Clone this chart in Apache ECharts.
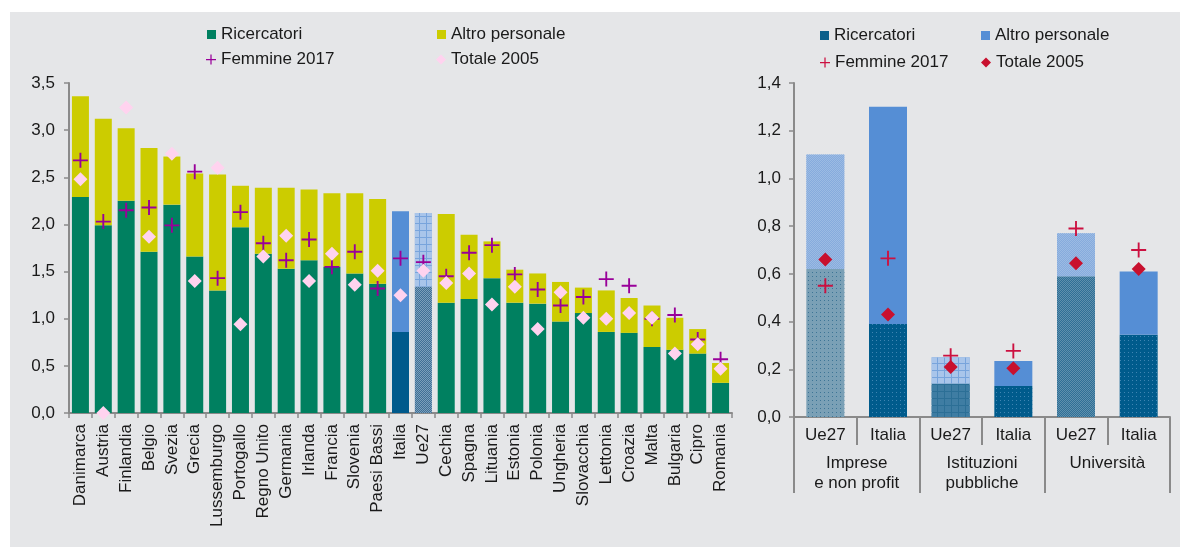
<!DOCTYPE html>
<html lang="it">
<head>
<meta charset="utf-8">
<title>Addetti alla R&amp;S</title>
<script src="https://cdn.jsdelivr.net/npm/echarts@6/dist/echarts.min.js"></script>
<style>
  html, body { margin: 0; padding: 0; background: #fff; }
  .panel { position: absolute; left: 10px; top: 12px; width: 1170px; height: 535px; background: #e5e6e8; }
  #chart { position: absolute; left: 0; top: 0; width: 1180px; height: 547px; }
</style>
</head>
<body>
<div class="panel"></div>
<div id="chart"></div>
<script>
// paesi (grafico di sinistra)
const paesi = ['Danimarca', 'Austria', 'Finlandia', 'Belgio', 'Svezia', 'Grecia', 'Lussemburgo', 'Portogallo',
  'Regno Unito', 'Germania', 'Irlanda', 'Francia', 'Slovenia', 'Paesi Bassi', 'Italia', 'Ue27', 'Cechia',
  'Spagna', 'Lituania', 'Estonia', 'Polonia', 'Ungheria', 'Slovacchia', 'Lettonia', 'Croazia', 'Malta',
  'Bulgaria', 'Cipro', 'Romania']
const ricercatori = [2.29, 1.99, 2.25, 1.71, 2.21, 1.66, 1.30, 1.97, 1.69, 1.53, 1.62, 1.55, 1.48, 1.37, 0.86, 1.34,
  1.17, 1.21, 1.43, 1.17, 1.16, 0.97, 1.06, 0.86, 0.85, 0.70, 0.67, 0.63, 0.32]
const altroPersonale = [1.07, 1.13, 0.77, 1.10, 0.51, 0.88, 1.23, 0.44, 0.70, 0.86, 0.75, 0.78, 0.85, 0.90, 1.28, 0.78,
  0.94, 0.68, 0.39, 0.35, 0.32, 0.42, 0.27, 0.44, 0.37, 0.44, 0.34, 0.26, 0.21]
const femmine2017 = [2.68, 2.03, 2.15, 2.18, 1.99, 2.56, 1.43, 2.13, 1.80, 1.62, 1.84, 1.55, 1.71, 1.32, 1.64, 1.60,
  1.45, 1.70, 1.78, 1.47, 1.31, 1.14, 1.23, 1.42, 1.35, 1.00, 1.04, 0.78, 0.57]
const totale2005 = [2.48, 0.00, 3.24, 1.87, 2.75, 1.40, 2.60, 0.94, 1.66, 1.88, 1.40, 1.69, 1.36, 1.51, 1.25, 1.51,
  1.38, 1.48, 1.15, 1.34, 0.89, 1.28, 1.01, 1.00, 1.06, 1.01, 0.63, 0.73, 0.47]
const tickSinistra = [0, 0.5, 1, 1.5, 2, 2.5, 3, 3.5]

// settori (grafico di destra)
const tipi = ['Ue27', 'Italia', 'Ue27', 'Italia', 'Ue27', 'Italia']
const settori = ['Imprese\ne non profit', 'Istituzioni\npubbliche', 'Università']
const settRicercatori = [0.62, 0.39, 0.14, 0.13, 0.59, 0.345]
const settAltro = [0.48, 0.91, 0.11, 0.105, 0.18, 0.265]
const settFemmine = [0.55, 0.665, 0.257, 0.277, 0.79, 0.70]
const settTotale2005 = [0.66, 0.43, 0.21, 0.204, 0.644, 0.62]
const tickDestra = [0, 0.2, 0.4, 0.6, 0.8, 1.0, 1.2, 1.4]

const font = "'Liberation Sans', Arial, sans-serif"
const axisGray = '#8a8a8a'
const textColor = '#1a1a1a'
const plus = 'path://M7,0H9V7H16V9H9V16H7V9H0V7H7Z'
const fmt = v => v.toFixed(1).replace('.', ',')

// retini per le barre Ue27
const dots = c => ({ symbol: 'rect', symbolSize: 1, color: c, dashArrayX: [1, 3], dashArrayY: [1, 3] })
const grid = c => ({ symbol: 'rect', symbolSize: 1, color: c, dashArrayX: [6, 1], dashArrayY: [6, 1] })
const checker = c => ({ symbol: 'rect', symbolSize: 1, color: c, dashArrayX: [[1, 1], [0, 1, 1, 0]], dashArrayY: [1, 0] })

const leftStyle = (name, part) => {
  if (name === 'Italia') return part === 'r' ? { color: '#005a8c' } : { color: '#558ed5' }
  if (name === 'Ue27') {
    return part === 'r'
      ? { color: '#7b9fbb', decal: checker('#3f6f96') }
      : { color: '#78a4dc', decal: grid('#a9c5ea') }
  }
  return undefined
}

const rightLower = [
  { color: '#7aa0b6', decal: dots('#3d7596') },
  { color: '#005b8c', decal: dots('#3f85b2') },
  { color: '#2c6f96', decal: grid('#3f7da3') },
  { color: '#005b8c', decal: dots('#3f85b2') },
  { color: '#5f90ad', decal: checker('#2f6f96') },
  { color: '#005b8c', decal: dots('#3f85b2') }
]
const rightUpper = [
  { color: '#9cbbe3', decal: checker('#86abdd') },
  { color: '#558ed5' },
  { color: '#78a4dc', decal: grid('#a9c5ea') },
  { color: '#558ed5' },
  { color: '#9cbbe3', decal: checker('#86abdd') },
  { color: '#558ed5' }
]

const chart = echarts.init(document.getElementById('chart'), null, { renderer: 'canvas' })

const legendBase = {
  selectedMode: false,
  padding: 0,
  itemWidth: 9,
  itemHeight: 9,
  textStyle: { fontFamily: font, fontSize: 17, color: textColor }
}

const yAxisBase = (gridIndex, max, interval, margin) => ({
  type: 'value',
  gridIndex,
  min: 0,
  max,
  interval,
  axisLine: { show: true, lineStyle: { color: axisGray, width: 2 } },
  axisTick: { show: true, length: 5, lineStyle: { color: axisGray, width: 1.5 } },
  splitLine: { show: false },
  axisLabel: { formatter: fmt, fontFamily: font, fontSize: 17, color: textColor, margin }
})

const option = {
  animation: false,
  backgroundColor: 'transparent',
  legend: [
    { ...legendBase, data: [{ name: 'Ricercatori', icon: 'rect' }], left: 207, top: 26 },
    { ...legendBase, data: [{ name: 'Altro personale', icon: 'rect' }], left: 437, top: 26 },
    { ...legendBase, data: [{ name: 'Femmine 2017', icon: plus }], left: 206, top: 51, itemWidth: 10, itemHeight: 10 },
    { ...legendBase, data: [{ name: 'Totale 2005', icon: 'diamond' }], left: 436, top: 51, itemWidth: 10, itemHeight: 10 },
    { ...legendBase, data: [{ name: 'Ricercatori ', icon: 'rect' }], left: 820, top: 27 },
    { ...legendBase, data: [{ name: 'Altro personale ', icon: 'rect' }], left: 981, top: 27 },
    { ...legendBase, data: [{ name: 'Femmine 2017 ', icon: plus }], left: 820, top: 54, itemWidth: 10, itemHeight: 10 },
    { ...legendBase, data: [{ name: 'Totale 2005 ', icon: 'diamond' }], left: 981, top: 54, itemWidth: 10, itemHeight: 10 }
  ],
  grid: [
    { left: 69, right: 448, top: 83, bottom: 134 },
    { left: 794, right: 10, top: 83, bottom: 130 }
  ],
  xAxis: [
    {
      type: 'category',
      gridIndex: 0,
      data: paesi,
      axisLine: { lineStyle: { color: axisGray, width: 2 } },
      axisTick: { show: true, interval: 0, length: 5, lineStyle: { color: axisGray, width: 1.5 } },
      axisLabel: { interval: 0, rotate: 90, margin: 11, fontFamily: font, fontSize: 17, color: textColor }
    },
    {
      type: 'category',
      gridIndex: 1,
      data: tipi,
      axisLine: { lineStyle: { color: axisGray, width: 2 } },
      axisTick: { show: true, interval: 0, length: 28, lineStyle: { color: axisGray, width: 2 } },
      axisLabel: { interval: 0, margin: 8, lineHeight: 20, fontFamily: font, fontSize: 17, color: textColor }
    },
    {
      type: 'category',
      gridIndex: 1,
      position: 'bottom',
      data: settori,
      axisLine: { show: false },
      axisTick: { show: true, interval: 0, length: 76, lineStyle: { color: axisGray, width: 2 } },
      axisLabel: { interval: 0, margin: 36, lineHeight: 20, fontFamily: font, fontSize: 17, color: textColor }
    }
  ],
  yAxis: [
    yAxisBase(0, tickSinistra[tickSinistra.length - 1], 0.5, 14),
    yAxisBase(1, tickDestra[tickDestra.length - 1], 0.2, 13)
  ],
  series: [
    {
      name: 'Ricercatori',
      type: 'bar',
      stack: 'sx',
      barWidth: 17,
      itemStyle: { color: '#008060' },
      data: ricercatori.map((v, i) => ({ value: v, itemStyle: leftStyle(paesi[i], 'r') }))
    },
    {
      name: 'Altro personale',
      type: 'bar',
      stack: 'sx',
      barWidth: 17,
      itemStyle: { color: '#cccc00' },
      data: altroPersonale.map((v, i) => ({ value: v, itemStyle: leftStyle(paesi[i], 'a') }))
    },
    {
      name: 'Femmine 2017',
      type: 'scatter',
      symbol: plus,
      symbolSize: 15,
      itemStyle: { color: '#990099', opacity: 1 },
      data: femmine2017
    },
    {
      name: 'Totale 2005',
      type: 'scatter',
      symbol: 'diamond',
      symbolSize: 14,
      itemStyle: { color: '#ffd3ef', opacity: 1 },
      data: totale2005
    },
    {
      name: 'Ricercatori ',
      type: 'bar',
      xAxisIndex: 1,
      yAxisIndex: 1,
      stack: 'dx',
      barWidth: 38,
      itemStyle: { color: '#0b5f8a' },
      data: settRicercatori.map((v, i) => ({ value: v, itemStyle: rightLower[i] }))
    },
    {
      name: 'Altro personale ',
      type: 'bar',
      xAxisIndex: 1,
      yAxisIndex: 1,
      stack: 'dx',
      barWidth: 38,
      itemStyle: { color: '#558ed5' },
      data: settAltro.map((v, i) => ({ value: v, itemStyle: rightUpper[i] }))
    },
    {
      name: 'Femmine 2017 ',
      type: 'scatter',
      xAxisIndex: 1,
      yAxisIndex: 1,
      symbol: plus,
      symbolSize: 15,
      itemStyle: { color: '#cc1040', opacity: 1 },
      data: settFemmine
    },
    {
      name: 'Totale 2005 ',
      type: 'scatter',
      xAxisIndex: 1,
      yAxisIndex: 1,
      symbol: 'diamond',
      symbolSize: 14,
      itemStyle: { color: '#c8102e', opacity: 1 },
      data: settTotale2005
    }
  ]
}

chart.setOption(option)
</script>
</body>
</html>
